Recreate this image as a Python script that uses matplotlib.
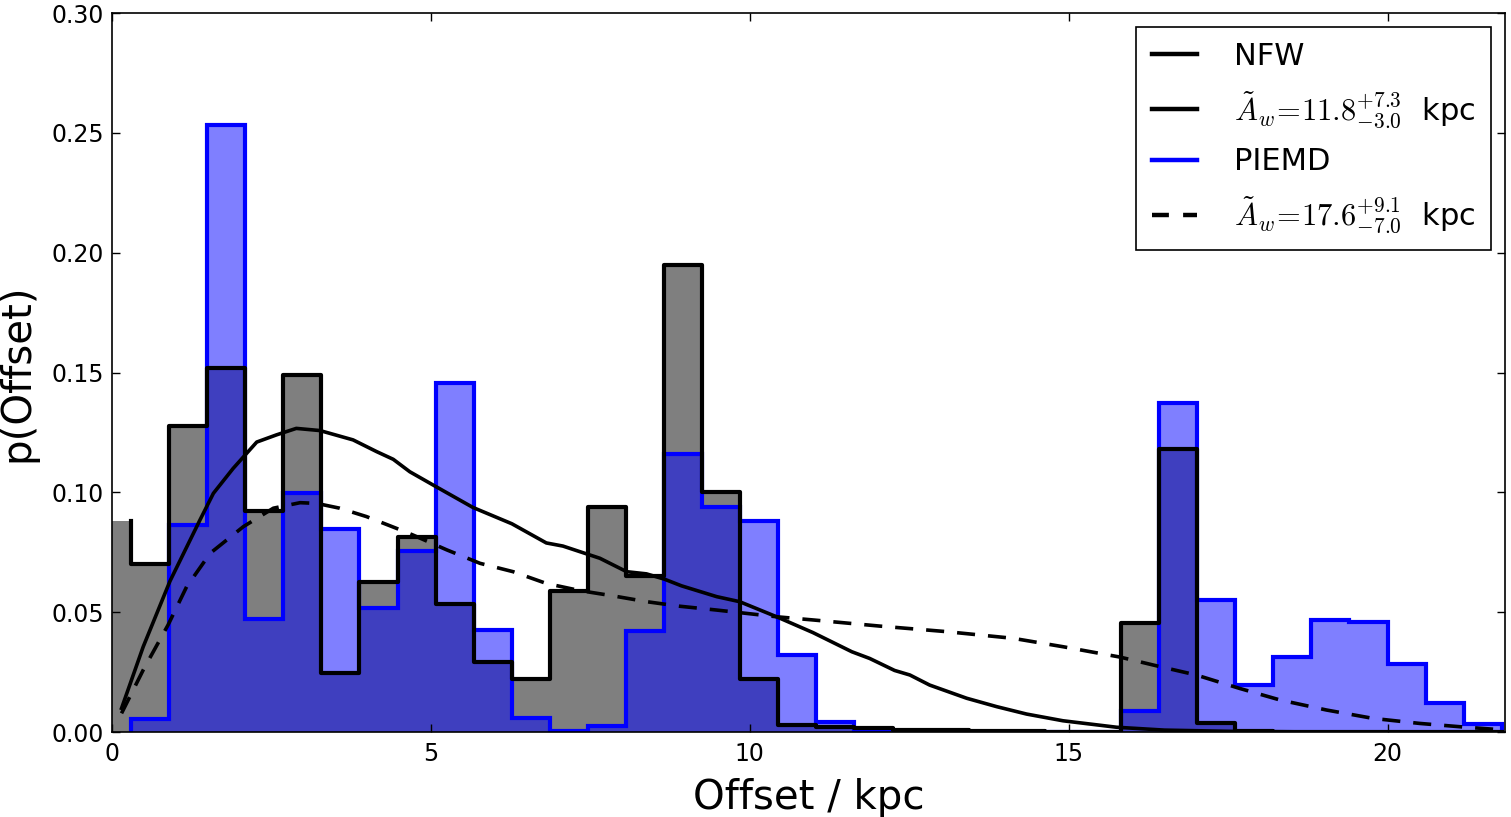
from matplotlib import pyplot as plt
from matplotlib.lines import Line2D
import numpy as np

plt.rcParams['font.family'] = ['DejaVu Sans']
plt.rcParams['mathtext.fontset'] = 'cm'

# histogram binning (kpc)
bin_start = 0.298
bin_width = 0.597
n_bins = 36

# first NFW fill bin, the one that sits left of bin_start
nfw_first = 0.088

nfw_hist = [0.070, 0.1275, 0.152, 0.0922, 0.149, 0.0246, 0.0628, 0.0813, 0.0533, 0.0294,
            0.0221, 0.059, 0.094, 0.065, 0.195, 0.100, 0.022, 0.0029, 0.002, 0.0015,
            0.001, 0.0007, 0.0005, 0.0003, 0.0002, 0.0001, 0.0456, 0.118, 0.0036, 0.0005,
            0.0, 0.0, 0.0, 0.0, 0.0, 0.0]

piemd_hist = [0.0055, 0.0865, 0.2534, 0.047, 0.0998, 0.0847, 0.0519, 0.0756, 0.1458, 0.0424,
              0.0058, 0.0004, 0.0026, 0.042, 0.116, 0.094, 0.088, 0.032, 0.0043, 0.0003,
              0.0, 0.0, 0.0, 0.0, 0.0, 0.0, 0.0089, 0.1374, 0.0551, 0.0196,
              0.0312, 0.0467, 0.0458, 0.0285, 0.0122, 0.0033]

nfw_curve_x = [0.15, 0.49, 0.91, 1.38, 1.59, 1.90, 2.27, 2.58, 2.89, 3.26,
               3.78, 4.15, 4.41, 4.67, 5.04, 5.66, 6.27, 6.81, 7.07, 7.65,
               8.07, 8.38, 8.66, 8.93, 9.48, 9.84, 10.42, 10.99, 11.60, 11.88,
               12.27, 12.51, 12.82, 13.40, 13.87, 14.34, 14.91, 15.75, 16.5, 17.5, 18.5]
nfw_curve_y = [0.0099, 0.0356, 0.063, 0.0885, 0.0996, 0.110, 0.121, 0.124, 0.1267, 0.1258,
               0.1219, 0.117, 0.1138, 0.1086, 0.103, 0.0937, 0.0869, 0.0789, 0.0776, 0.0725,
               0.0669, 0.066, 0.0638, 0.061, 0.0565, 0.0544, 0.0481, 0.0415, 0.0335, 0.0307,
               0.0257, 0.0238, 0.0196, 0.0141, 0.0106, 0.0075, 0.0047, 0.002, 0.0008, 0.0003, 0.0001]

piemd_curve_x = [0.15, 0.49, 0.88, 1.17, 1.54, 2.06, 2.53, 2.95, 3.21, 3.57,
                 3.99, 4.46, 4.72, 5.25, 5.77, 6.29, 6.81, 7.34, 7.86, 8.38,
                 8.90, 9.48, 10.42, 11.02, 12.04, 13.08, 14.13, 14.91, 15.80, 16.43,
                 17.00, 17.68, 18.31, 19.04, 19.77, 20.50, 21.23, 21.70]
piemd_curve_y = [0.0078, 0.0259, 0.0447, 0.0606, 0.0746, 0.0857, 0.0934, 0.0957, 0.0954, 0.0934,
                 0.0899, 0.085, 0.0822, 0.076, 0.0704, 0.0669, 0.062, 0.059, 0.0568, 0.0544,
                 0.0525, 0.0509, 0.0481, 0.0467, 0.0442, 0.0419, 0.0391, 0.0356, 0.0313, 0.0273,
                 0.0238, 0.0182, 0.0134, 0.0092, 0.0057, 0.0036, 0.002, 0.0011]

nfw_label = r'$\tilde{A}_w\!=\!11.8^{+7.3}_{-3.0}$  kpc'
piemd_label = r'$\tilde{A}_w\!=\!17.6^{+9.1}_{-7.0}$  kpc'


def main():
    edges = bin_start + bin_width * np.arange(n_bins + 1)
    nfw_edges = np.r_[bin_start - bin_width, edges]
    nfw_vals = np.r_[nfw_first, nfw_hist]

    fig = plt.figure(figsize=(15.11, 8.17), dpi=100)
    ax = fig.add_axes([0.0741, 0.104, 0.9219, 0.880])

    # fills
    ax.stairs(nfw_vals, nfw_edges, fill=True, color='black', alpha=0.5, lw=0)
    ax.stairs(piemd_hist, edges, fill=True, color='blue', alpha=0.5, lw=0)

    # outlines
    ax.step(nfw_edges[1:], nfw_vals, where='pre', color='black', lw=3.0)
    ax.stairs(piemd_hist, edges, color='blue', lw=3.0)

    # smoothed curves
    ax.plot(nfw_curve_x, nfw_curve_y, color='black', lw=2.6)
    ax.plot(piemd_curve_x, piemd_curve_y, color='black', lw=2.6,
            linestyle=(0, (5.0, 3.6)))

    ax.set_xlim(0, 21.84)
    ax.set_ylim(0, 0.30)
    ax.set_xticks([0, 5, 10, 15, 20])
    ax.set_yticks(np.arange(0, 0.31, 0.05))
    ax.set_yticklabels(['%.2f' % v for v in np.arange(0, 0.31, 0.05)])
    ax.tick_params(direction='in', length=6, width=1, labelsize=17, top=True, right=True)
    ax.tick_params(axis='x', pad=7)
    ax.tick_params(axis='y', pad=6)
    for s in ax.spines.values():
        s.set_linewidth(1.2)

    ax.set_xlabel('Offset / kpc', fontsize=29, labelpad=9)
    ax.set_ylabel('p(Offset)', fontsize=29, labelpad=10)

    handles = [Line2D([], [], color='black', lw=3.2),
               Line2D([], [], color='black', lw=3.2),
               Line2D([], [], color='blue', lw=3.2),
               Line2D([], [], color='black', lw=3.2, linestyle=(0, (3.8, 3.2)))]
    labels = ['NFW', nfw_label, 'PIEMD', piemd_label]
    leg = ax.legend(handles, labels, loc='upper right', fontsize=22, fancybox=False,
                    framealpha=1, edgecolor='black', handlelength=1.5,
                    labelspacing=0.58, borderpad=0.5, handletextpad=1.2,
                    borderaxespad=0.45)
    leg.get_frame().set_linewidth(1.2)

    plt.savefig('out.png', dpi=100)


if __name__ == "__main__":
    main()
